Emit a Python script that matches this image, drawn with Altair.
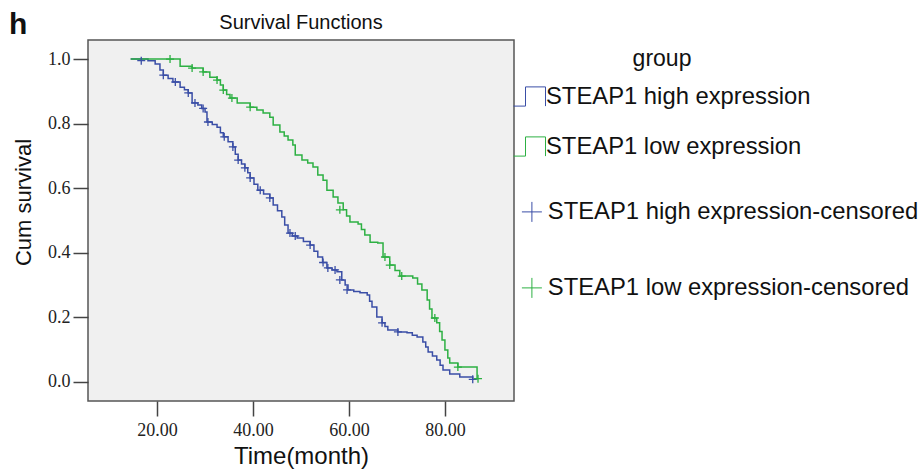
import altair as alt
import pandas as pd

HIGH = "STEAP1 high expression"
LOW = "STEAP1 low expression"
HIGH_C = "STEAP1 high expression-censored"
LOW_C = "STEAP1 low expression-censored"

# Kaplan-Meier steps (time in months, cumulative survival after the step)
high_time = [14.5, 18.1, 19.6, 20.6, 21.3, 22.3, 23.3, 24.8, 25.7, 26.5, 27.3, 28.5, 29.3, 30.0,
             30.4, 31.5, 32.5, 33.2, 33.8, 34.8, 35.8, 36.3, 36.9, 37.6, 38.3, 38.9, 39.4, 40.2,
             41.0, 42.2, 43.5, 44.2, 45.1, 46.0, 46.6, 47.3, 48.2, 49.2, 50.5, 51.9, 52.7, 53.5,
             54.5, 55.4, 56.5, 57.5, 58.5, 59.2, 59.8, 61.0, 62.3, 63.8, 64.3, 64.8, 65.8, 66.9,
             67.5, 68.1, 70.2, 72.1, 73.2, 74.2, 75.4, 76.0, 76.5, 77.4, 78.3, 79.0, 79.6, 81.0,
             83.1, 85.8, 86.0]
high_surv = [1.0, 0.995, 0.985, 0.966, 0.950, 0.940, 0.929, 0.913, 0.905, 0.895, 0.864, 0.858, 0.847, 0.836,
             0.805, 0.797, 0.789, 0.772, 0.759, 0.744, 0.728, 0.705, 0.687, 0.675, 0.663, 0.648, 0.632, 0.612,
             0.594, 0.582, 0.570, 0.548, 0.530, 0.511, 0.486, 0.461, 0.452, 0.446, 0.435, 0.424, 0.405, 0.387,
             0.370, 0.353, 0.347, 0.341, 0.316, 0.300, 0.285, 0.280, 0.276, 0.269, 0.250, 0.232, 0.201, 0.183,
             0.172, 0.161, 0.155, 0.152, 0.145, 0.139, 0.124, 0.108, 0.093, 0.080, 0.068, 0.052, 0.037, 0.025,
             0.015, 0.008, 0.008]

low_time = [14.5, 24.8, 27.3, 29.6, 31.0, 32.5, 33.2, 33.8, 34.5, 35.2, 36.7, 39.4, 40.8, 42.1,
            43.5, 44.2, 45.6, 46.5, 47.3, 48.3, 48.8, 50.2, 51.4, 52.5, 53.5, 54.6, 55.4, 56.7,
            57.7, 58.8, 59.5, 60.2, 61.9, 62.6, 63.3, 64.4, 66.0, 67.1, 68.5, 69.6, 70.6, 73.3,
            74.3, 75.2, 76.3, 76.8, 77.3, 78.3, 78.9, 79.4, 80.0, 80.6, 81.0, 82.7, 86.7, 86.9]
low_surv = [1.0, 0.978, 0.972, 0.960, 0.944, 0.935, 0.920, 0.904, 0.890, 0.879, 0.864, 0.851, 0.842, 0.833,
            0.820, 0.796, 0.774, 0.762, 0.749, 0.734, 0.703, 0.687, 0.678, 0.666, 0.641, 0.625, 0.594, 0.573,
            0.554, 0.533, 0.514, 0.495, 0.489, 0.472, 0.455, 0.433, 0.430, 0.387, 0.362, 0.345, 0.328, 0.322,
            0.303, 0.285, 0.254, 0.226, 0.198, 0.183, 0.156, 0.130, 0.099, 0.074, 0.059, 0.046, 0.010, 0.010]

# censored observations
high_cens_time = [16.7, 21.3, 23.8, 26.5, 27.9, 29.6, 30.6, 34.0, 35.8, 36.9, 38.3, 39.4, 41.5, 43.5,
                  47.7, 48.8, 51.9, 54.6, 55.6, 57.1, 58.1, 59.6, 66.9, 70.2, 85.8]
high_cens_surv = [0.995, 0.950, 0.929, 0.895, 0.864, 0.847, 0.805, 0.759, 0.728, 0.687, 0.663, 0.632, 0.594, 0.570,
                  0.461, 0.452, 0.424, 0.370, 0.353, 0.347, 0.316, 0.285, 0.183, 0.155, 0.008]
low_cens_time = [22.7, 27.3, 29.6, 32.5, 33.8, 35.6, 39.4, 58.1, 67.5, 68.5, 71.0, 77.9, 82.7, 86.9]
low_cens_surv = [1.0, 0.972, 0.960, 0.935, 0.904, 0.879, 0.851, 0.533, 0.387, 0.362, 0.328, 0.198, 0.046, 0.010]

BLUE = "#3a4ea6"
GREEN = "#2db043"

lines = pd.DataFrame({
    "time": high_time + low_time,
    "surv": high_surv + low_surv,
    "group": [HIGH] * len(high_time) + [LOW] * len(low_time),
})
cens = pd.DataFrame({
    "time": high_cens_time + low_cens_time,
    "surv": high_cens_surv + low_cens_surv,
    "cgroup": [HIGH_C] * len(high_cens_time) + [LOW_C] * len(low_cens_time),
})

STEP = "M-1,0.6L-0.25,0.6L-0.25,-0.6L1,-0.6L1,0.6"
CROSS = "M-1,0L1,0M0,-1L0,1"

x = alt.X("time:Q", scale=alt.Scale(domain=[5.6, 94.4], nice=False, zero=False),
          axis=alt.Axis(values=[20, 40, 60, 80], format=".2f", title="Time(month)",
                        labelPadding=5, titlePadding=5))
y = alt.Y("surv:Q", scale=alt.Scale(domain=[-0.059, 1.059], nice=False, zero=False),
          axis=alt.Axis(values=[0, 0.2, 0.4, 0.6, 0.8, 1.0], format=".1f", title="Cum survival",
                        labelPadding=3, titlePadding=12, titleY=162))

line_layer = alt.Chart(lines).mark_line(interpolate="step-after", strokeWidth=1.5).encode(
    x=x, y=y,
    color=alt.Color("group:N", scale=alt.Scale(domain=[HIGH, LOW], range=[BLUE, GREEN]),
                    legend=alt.Legend(title="group", orient="none", legendX=425, legendY=8,
                                      symbolType=STEP, symbolSize=1024, symbolStrokeWidth=1,
                                      symbolFillColor="transparent", titleAnchor="middle",
                                      titleAlign="center", rowPadding=21, labelOffset=0,
                                      titlePadding=9)),
)

cens_layer = alt.Chart(cens).mark_point(shape=CROSS, size=64, strokeWidth=1.3, filled=False, opacity=1).encode(
    x=x, y=y,
    stroke=alt.Stroke("cgroup:N", scale=alt.Scale(domain=[HIGH_C, LOW_C], range=[BLUE, GREEN]),
                      legend=alt.Legend(title=None, orient="none", legendX=432, legendY=160,
                                        symbolType=CROSS, symbolSize=400, symbolStrokeWidth=1,
                                        rowPadding=51, labelOffset=4)),
)

texts = alt.Chart(pd.DataFrame({"t": ["h"]}))
panel_label = texts.mark_text(
    fontSize=30, fontWeight="bold", font="Liberation Sans", align="left", baseline="alphabetic", color="#111"
).encode(x=alt.value(-79), y=alt.value(-6), text="t:N")
chart_title = texts.mark_text(
    fontSize=20, font="Liberation Sans", align="center", baseline="alphabetic", color="#111"
).encode(x=alt.value(213), y=alt.value(-11), text=alt.value("Survival Functions"))

chart = alt.layer(line_layer, cens_layer, panel_label, chart_title).resolve_scale(
    color="independent", stroke="independent"
).properties(
    width=426, height=361,
    background="white",
    autosize=alt.AutoSizeParams(type="none"),
    padding={"left": 88, "top": 40, "right": 406, "bottom": 70},
).configure_view(
    fill="#f0f0f0", stroke="#555", strokeWidth=1.5
).configure_axis(
    domain=False, grid=False, tickColor="#444", tickWidth=1.5, tickSize=15,
    labelFont="Liberation Serif", labelFontSize=18, labelColor="#222",
    titleFont="Liberation Sans", titleFontSize=22, titleFontWeight="normal", titleColor="#111",
).configure_axisX(
    titleFontSize=24
).configure_legend(
    labelFont="Liberation Sans", labelFontSize=23.8, labelColor="#111", labelLimit=0,
    titleFont="Liberation Sans", titleFontSize=23, titleFontWeight="normal", titleColor="#111",
)

chart.save("out.html", embed_options={"renderer": "svg", "actions": False})
